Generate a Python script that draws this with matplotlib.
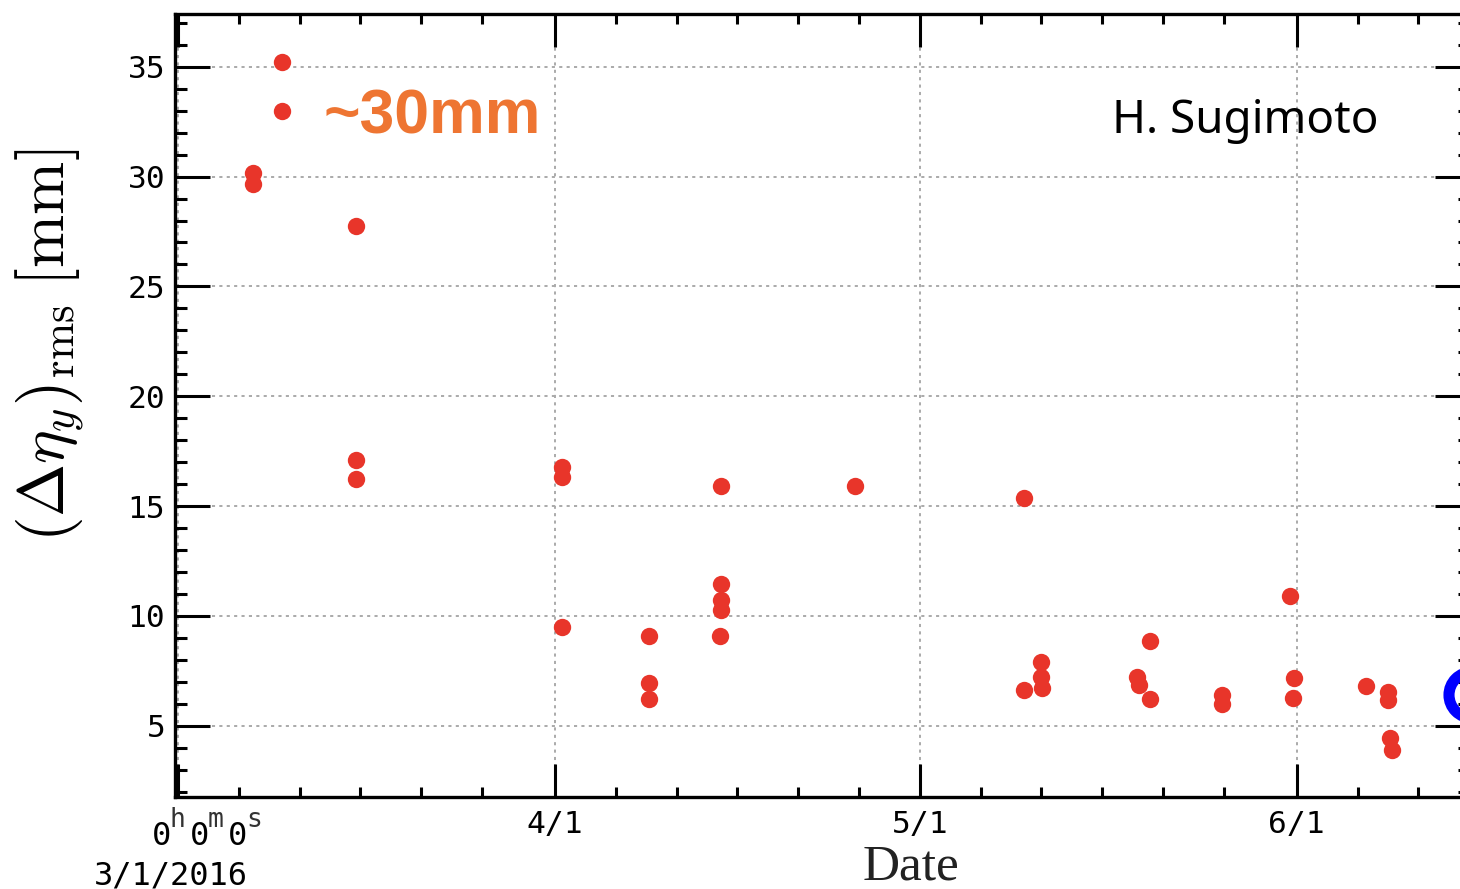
import matplotlib
matplotlib.use("Agg")
import matplotlib.pyplot as plt
import matplotlib.dates as mdates
import matplotlib.ticker as mticker
from matplotlib.patches import Circle
from matplotlib.transforms import IdentityTransform
import pandas as pd

# Measurement times and the rms of the vertical eta difference [mm]
times = [
    "2016-03-07 04:30", "2016-03-07 04:30", "2016-03-09 14:00", "2016-03-09 14:00",
    "2016-03-15 15:20", "2016-03-15 15:20", "2016-03-15 15:20",
    "2016-04-01 13:00", "2016-04-01 13:00", "2016-04-01 13:00",
    "2016-04-08 18:15", "2016-04-08 18:15", "2016-04-08 18:15",
    "2016-04-14 15:35", "2016-04-14 15:35", "2016-04-14 15:35", "2016-04-14 15:35",
    "2016-04-14 14:30",
    "2016-04-25 16:05",
    "2016-05-09 14:25", "2016-05-09 14:25",
    "2016-05-10 23:15", "2016-05-10 22:50", "2016-05-11 00:45",
    "2016-05-18 20:10", "2016-05-19 01:10", "2016-05-19 22:20", "2016-05-19 22:20",
    "2016-05-25 20:00", "2016-05-25 20:00",
    "2016-05-31 10:50", "2016-05-31 18:40", "2016-05-31 17:20",
    "2016-06-06 16:50",
    "2016-06-08 12:50", "2016-06-08 12:50", "2016-06-08 16:05", "2016-06-08 19:25",
]
eta_rms = [
    30.15, 29.64, 35.2, 33.0,
    27.73, 17.12, 16.23,
    16.79, 16.33, 9.49,
    9.10, 6.97, 6.21,
    15.91, 11.45, 10.73, 10.27,
    9.09,
    15.91,
    15.35, 6.64,
    7.92, 7.24, 6.71,
    7.24, 6.86, 8.88, 6.21,
    6.41, 6.00,
    10.91, 7.17, 6.26,
    6.82,
    6.56, 6.18, 4.44, 3.91,
]

month_ticks = ["2016-03-01", "2016-04-01", "2016-05-01", "2016-06-01"]
month_labels = ["", "4/1", "5/1", "6/1"]

x_start = pd.Timestamp("2016-02-29 18:00")
x_end = pd.Timestamp("2016-06-15 06:00")
y_min, y_max = 1.76, 37.4

W, H = 1460, 889
mono = "DejaVu Sans Mono"

fig = plt.figure(figsize=(W / 100, H / 100), dpi=100)
ax = fig.add_axes([175 / W, 1 - 797 / H, (1470 - 175) / W, (797 - 14) / H])

t = pd.to_datetime(times)
ax.plot(t, eta_rms, linestyle="none", marker="o", markersize=12.5,
        color="#e8352a", markeredgewidth=0, zorder=3)

ax.set_xlim(x_start, x_end)
ax.set_ylim(y_min, y_max)

ax.xaxis.set_major_locator(mticker.FixedLocator(mdates.date2num(pd.to_datetime(month_ticks))))
ax.xaxis.set_major_formatter(mticker.FixedFormatter(month_labels))
ax.xaxis.set_minor_locator(mdates.DayLocator(bymonthday=[6, 11, 16, 21, 26]))
ax.yaxis.set_major_locator(mticker.MultipleLocator(5))
ax.yaxis.set_minor_locator(mticker.MultipleLocator(1))

ax.tick_params(which="both", direction="in", top=True, right=True, width=2.2,
               labelsize=22.5, color="black")
ax.tick_params(axis="x", which="major", length=24, pad=9)
ax.tick_params(axis="x", which="minor", length=7.5)
ax.tick_params(axis="y", which="major", length=25, pad=7)
ax.tick_params(axis="y", which="minor", length=8.5)
for lab in ax.get_xticklabels() + ax.get_yticklabels():
    lab.set_fontfamily(mono)

for s in ax.spines.values():
    s.set_linewidth(2.4)

ax.grid(True, which="major", color="#aaaaaa", linestyle=(0, (1.6, 2.2)), linewidth=1.4)
ax.set_axisbelow(True)


def px(x, y):
    return x / W, 1 - y / H


# time offset label under the first tick: 0h0m0s / 3/1/2016
for x0, sup, xs in [(152, "h", 170), (190, "m", 208), (228, "s", 246)]:
    fig.text(*px(x0, 845), "0", fontsize=23, family=mono, ha="left", va="baseline")
    fig.text(*px(xs, 827), sup, fontsize=19, family=mono, ha="left", va="baseline",
             color="#333333")
fig.text(*px(171, 884), "3/1/2016", fontsize=23, family=mono,
         ha="center", va="baseline")

fig.text(*px(911, 880), "Date", fontsize=37, family="Liberation Serif",
         ha="center", va="baseline", color="#222222")
fig.text(*px(50, 345),
         r"$\left(\Delta\eta_{y}\right)_{\mathrm{rms}}\;[\mathrm{mm}]$",
         fontsize=46, rotation=90, ha="center", va="center", math_fontfamily="cm")

fig.text(*px(323, 133), "~30mm", fontsize=45, fontweight="bold",
         family="Liberation Sans", color="#ee7532", ha="left", va="baseline")
fig.text(*px(1112, 133), "H. Sugimoto", fontsize=33, family="Noto Sans",
         color="black", ha="left", va="baseline")

fig.add_artist(Circle((1472, H - 695), 23, transform=IdentityTransform(),
                      fill=False, edgecolor="#0000ff", linewidth=8))

fig.savefig("out.png", dpi=100)
